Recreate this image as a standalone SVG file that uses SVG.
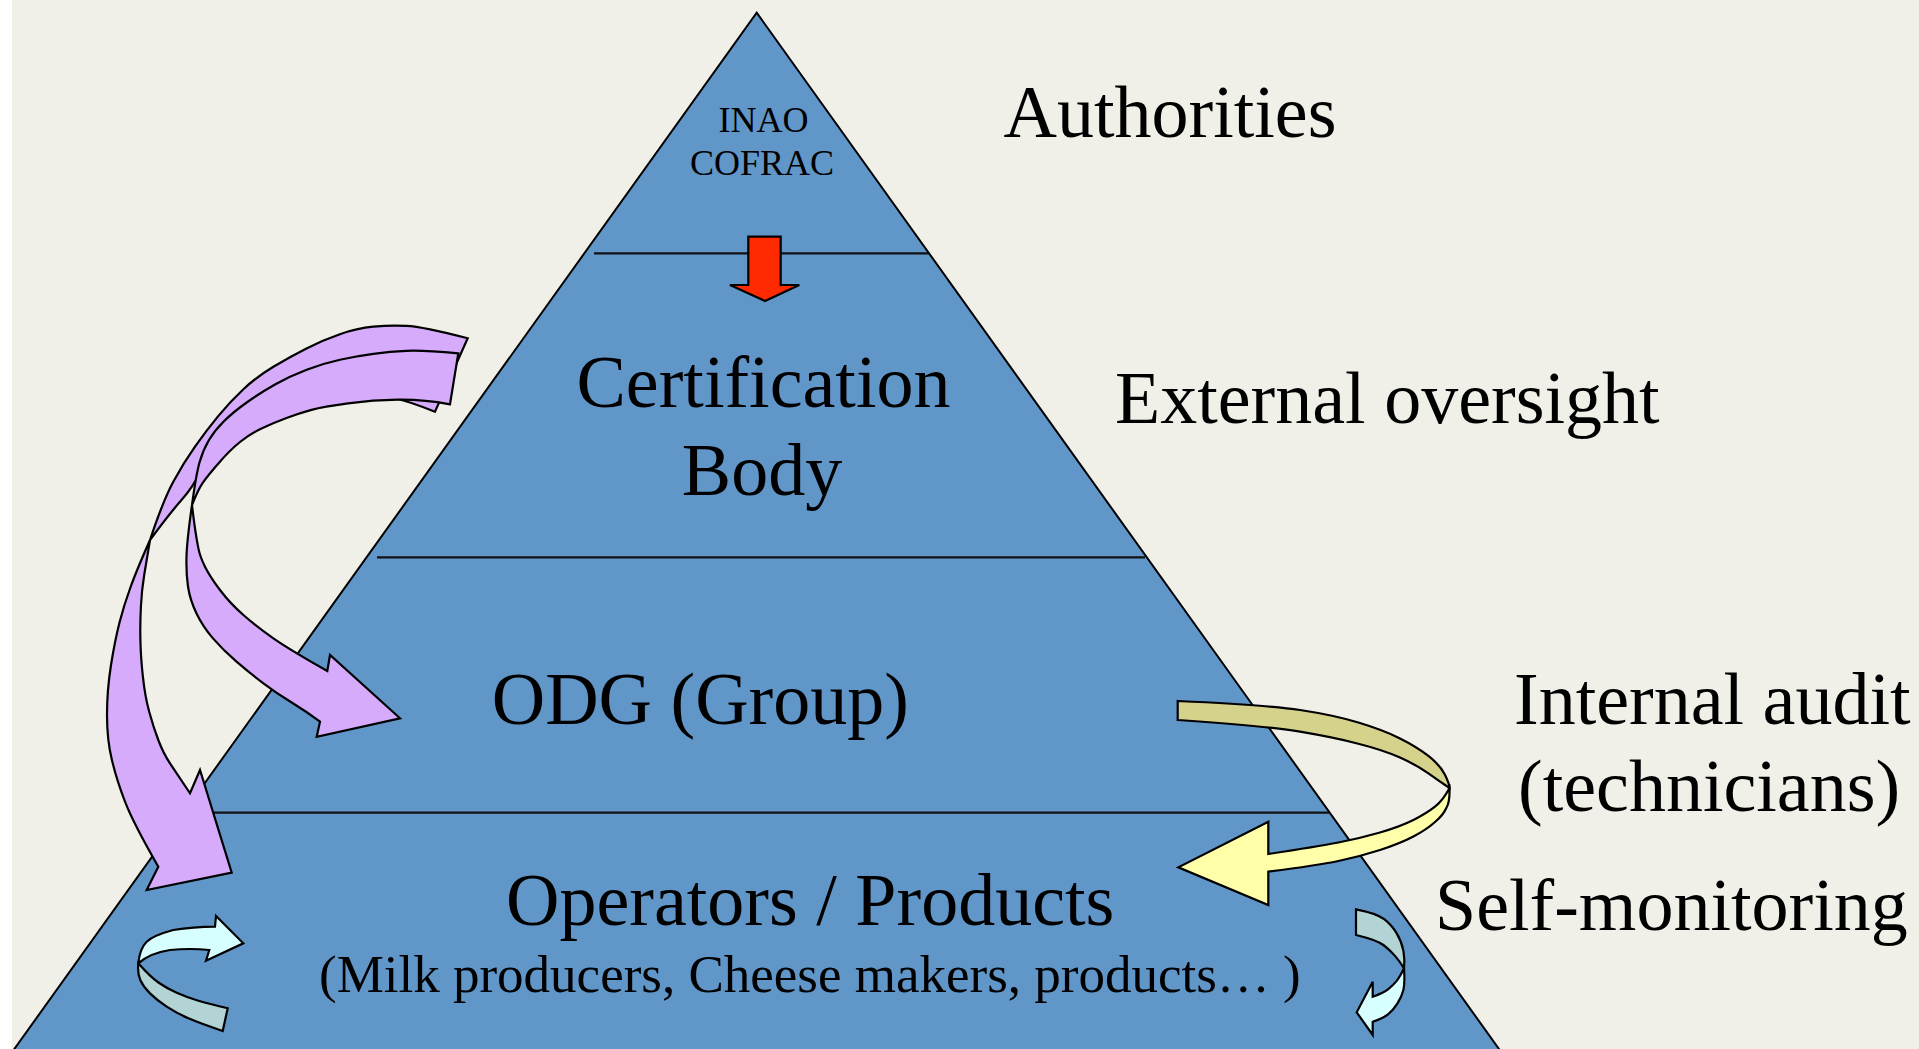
<svg xmlns="http://www.w3.org/2000/svg" width="1919" height="1049" viewBox="0 0 1919 1049">
<style>
.t{font-family:"Liberation Serif","Times New Roman",serif;fill:#000}
.big{font-size:74px}
.sm{font-size:36px}
.sub{font-size:53px}
.ln{stroke:#111;stroke-width:2.2;fill:none}
.ar{stroke:#000;stroke-width:2.2;stroke-linejoin:miter}
.pu{fill:#D6ABFC}
.olive{fill:#D5D28B}
.yel{fill:#FFFFAA}
.tb{fill:#B2D4D4}
.tf{fill:#D8FFFF}
</style>
<rect x="0" y="0" width="1919" height="1049" fill="#F0EFE8"/>
<rect x="0" y="0" width="12" height="1049" fill="#FFFFFF"/>
<g id="pyramid">
<polygon points="756.7,12.7 1508.3,1062 5,1062" fill="#6196C9" stroke="#000" stroke-width="2"/>
<line class="ln" x1="594" y1="253.3" x2="929" y2="253.3"/>
<line class="ln" x1="377" y1="557.3" x2="1145" y2="557.3"/>
<line class="ln" x1="184" y1="812.7" x2="1329" y2="812.7"/>
</g>
<g id="node-authorities">
<text class="t sm" x="763.5" y="132" text-anchor="middle">INAO</text>
<text class="t sm" x="762" y="175" text-anchor="middle">COFRAC</text>
</g>
<g id="node-certification">
<text class="t big" x="763.5" y="407" text-anchor="middle">Certification</text>
<text class="t big" x="762" y="495" text-anchor="middle">Body</text>
</g>
<g id="node-odg">
<text class="t big" x="491.7" y="724">ODG (Group)</text>
</g>
<g id="node-operators">
<text class="t big" x="506" y="924.5">Operators / Products</text>
<text class="t sub" x="319" y="991.7">(Milk producers, Cheese makers, products… )</text>
</g>
<g id="labels">
<text class="t big" x="1003.5" y="137">Authorities</text>
<text class="t big" x="1115" y="423">External oversight</text>
<text class="t big" x="1514" y="724">Internal audit</text>
<text class="t big" x="1518" y="811">(technicians)</text>
<text class="t big" x="1435" y="930">Self-monitoring</text>
</g>
<g id="connectors">
<polygon class="ar" fill="#FF2A00" points="748.3,236.7 780.7,236.7 780.7,285 799.3,285 765,301 730,285 748.3,285"/>
<path class="ar pu" d="M 467.7,338.3 Q 423,326.7 406.5,325.9 Q 390,325 373.4,326.7 Q 356.7,328.3 339.9,334.2 Q 323,340 306.5,348.4 Q 290,356.7 273.4,366.7 Q 256.7,376.7 243.4,389.2 Q 230,401.7 218.4,415.9 Q 206.7,430 195,446.7 Q 183.3,463.3 173.3,481.7 Q 163.3,500 150,540 Q 170,513 181.5,500 Q 193,487 200,472.5 Q 207,458 220,444 Q 233,430 253,417.5 Q 273,405 298,397.5 Q 323,390 348,391.5 Q 373,393 390.5,397 Q 408,401 435,411.7 Z"/>
<path class="ar pu" d="M 150,540 Q 136.7,570 130.4,587.5 Q 124,605 119.5,622.5 Q 115,640 111,665 Q 107,690 107,715 Q 107,740 111.9,760 Q 116.7,780 125,801.7 Q 133.3,823.3 158.3,866.7 L 146.7,890 L 231.7,872.7 L 200,770 L 190,793.3 Q 176.7,773.3 170,763.3 Q 163.3,753.3 158.3,740 Q 153.3,726.7 149.2,711.7 Q 145,696.7 142.9,676.7 Q 140.7,656.7 140.4,640 Q 140,623.3 140.9,606.7 Q 141.7,590 144.2,575 Q 146.7,560 150,540 Z"/>
<path class="ar pu" d="M 458.3,353.3 Q 423,350 406.5,350.8 Q 390,351.5 373.4,353.8 Q 356.7,356 340,359.7 Q 323.3,363.3 306.7,369.7 Q 290,376 275,384.5 Q 260,393 246.7,402.5 Q 233.3,412 224.2,421 Q 215,430 209,440 Q 203,450 199.5,462.5 Q 196,475 192,505 Q 198,490 202.4,483.4 Q 206.7,476.7 218.4,463.4 Q 230,450 240,442 Q 250,434 261.5,428.5 Q 273,423 286.5,418 Q 300,413 311.5,409.9 Q 323,406.7 348,403.4 Q 373,400 398,399.7 Q 423,399.3 450,404.3 Z"/>
<path class="ar pu" d="M 192,505 Q 187,540 186.5,556.5 Q 186,573 188,586.5 Q 190,600 196.5,613.4 Q 203,626.7 213,638.4 Q 223,650 236.5,661.7 Q 250,673.3 263.4,683.3 Q 276.7,693.3 291.7,702.5 Q 306.7,711.7 320,721.7 L 316.7,736.7 L 400,718.3 L 330,655 L 327.3,671 Q 290,650 273.4,638.4 Q 256.7,626.7 243.4,615 Q 230,603.3 220,590 Q 210,576.7 205,566.7 Q 200,556.7 198.4,548.4 Q 196.7,540 195.4,531 Q 194,522 192,505 Z"/>
<path class="ar olive" d="M 1177.7,701 Q 1266.7,705 1300,710 Q 1333.3,715 1358.3,722.5 Q 1383.3,730 1400,738.4 Q 1416.7,746.7 1428.4,755.9 Q 1440,765 1444.7,774.2 Q 1449.3,783.3 1449.5,788 Q 1440,781.7 1428.4,773.4 Q 1416.7,765 1400,757.5 Q 1383.3,750 1358.3,743.7 Q 1333.3,737.3 1300,731.7 Q 1266.7,726 1177.7,720 Z"/>
<path class="ar yel" d="M 1449.5,788 Q 1450,802 1446.3,808 Q 1443.3,815 1435,822 Q 1426.7,829.5 1413.4,836.5 Q 1400,843.5 1380,850 Q 1360,856.5 1338.4,861 Q 1316.7,865.5 1268.3,871.7 L 1268.3,905 L 1178.3,867.3 L 1268.3,821.7 L 1268.3,854 Q 1316.7,846.7 1338.4,842.5 Q 1360,838.3 1380,832.5 Q 1400,826.7 1413.4,820 Q 1426.7,813.3 1435,806.7 Q 1443.3,800 1449.5,788 Z"/>
<path class="ar tb" d="M 227.7,1008.3 L 222.7,1031 Q 200,1023.3 188.4,1018.3 Q 176.7,1013.3 166.7,1006.7 Q 156.7,1000 150,993.4 Q 143.3,986.7 140.3,980 Q 137.3,973.3 138.3,963.3 Q 150,976.7 158.4,982.5 Q 166.7,988.3 176.7,992.8 Q 186.7,997.3 198.4,1000.7 Q 210,1004 227.7,1008.3 Z"/>
<path class="ar tf" d="M 138.3,963.3 Q 140,948 146.7,941.7 Q 153,935.5 173.3,930 Q 193,927 215,926.7 L 216,916 L 243.3,943.3 L 206,960.7 L 209.3,950 Q 190,948 170,950 Q 150,953 138.3,963.3 Z"/>
<path class="ar tb" d="M 1356,909.3 Q 1376.7,913.3 1384.2,919.2 Q 1391.7,925 1396.7,933.4 Q 1401.7,941.7 1403.4,950.9 Q 1405,960 1404,968.3 Q 1400,961.7 1395,955.9 Q 1390,950 1383.4,945 Q 1376.7,940 1356,935 Z"/>
<path class="ar tf" d="M 1404,968.3 Q 1405,983.3 1403.4,990 Q 1401.7,996.7 1397.5,1003.4 Q 1393.3,1010 1388.3,1014.2 Q 1383.3,1018.3 1372.7,1021.7 L 1372.7,1035 L 1356.7,1012.3 L 1372.7,981.7 L 1372.7,996.7 Q 1383.3,993.3 1388.3,989.2 Q 1393.3,985 1396.7,980.9 Q 1400,976.7 1404,968.3 Z"/>
</g>
</svg>
